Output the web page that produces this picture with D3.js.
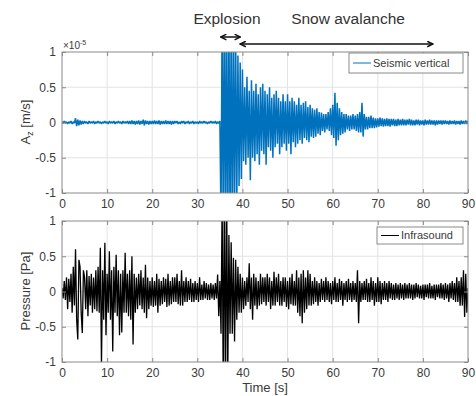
<!DOCTYPE html>
<html>
<head>
<meta charset="utf-8">
<script src="https://cdn.jsdelivr.net/npm/d3@7"></script>
<style>
  body { margin: 0; background: #fff; }
  svg { display: block; font-family: Arial, "Liberation Sans", Helvetica, sans-serif; }
</style>
</head>
<body>
<div id="chart"></div>
<script>
// sampled every 0.25 s from t = 0 to 90 s
const t0 = 0;
const dt = 0.25;

// vertical ground velocity, in units of 1e-5 m/s
const seismic = [
  0.01,-0.01,0.02,-0.01,0.01,-0.02,0.01,-0.01,0.02,-0.02,0.01,-0.01,0.06,-0.05,0.04,-0.04,0.03,-0.03,0.02,-0.02,
  0.02,-0.01,0.01,-0.02,0.02,-0.01,0.01,-0.01,0.02,-0.02,0.01,-0.01,0.02,-0.01,0.01,-0.02,0.01,-0.01,0.02,-0.01,
  0.01,-0.02,0.02,-0.01,0.01,-0.01,0.02,-0.02,0.01,-0.01,0.02,-0.01,0.01,-0.02,0.02,-0.01,0.01,-0.01,0.02,-0.02,
  0.02,-0.02,0.03,-0.02,0.02,-0.03,0.02,-0.02,0.03,-0.03,0.02,-0.02,0.04,-0.04,0.03,-0.02,0.02,-0.03,0.02,-0.02,
  0.02,-0.02,0.03,-0.02,0.02,-0.02,0.03,-0.03,0.02,-0.02,0.02,-0.02,0.03,-0.02,0.02,-0.02,0.02,-0.03,0.02,-0.02,
  0.02,-0.01,0.02,-0.02,0.01,-0.02,0.02,-0.01,0.02,-0.02,0.01,-0.01,0.02,-0.02,0.01,-0.01,0.02,-0.02,0.01,-0.01,
  0.01,-0.02,0.02,-0.01,0.01,-0.01,0.02,-0.01,0.01,-0.02,0.01,-0.01,0.02,-0.01,0.01,-0.01,0.02,-0.02,0.01,-0.01,
  0.02,-1.4,1.6,-1.7,1.8,-1.6,1.5,-1.7,1.6,-1.5,1.4,-1.6,1.5,-1.3,1.2,-1.1,0.95,-0.9,0.85,-0.8,
  0.75,-0.55,0.5,-0.6,0.65,-0.5,0.45,-0.82,0.6,-0.5,0.45,-0.55,0.55,-0.45,0.4,-0.6,0.5,-0.4,0.55,-0.45,
  0.45,-0.6,0.4,-0.35,0.5,-0.4,0.35,-0.5,0.4,-0.35,0.45,-0.3,0.35,-0.45,0.3,-0.35,0.4,-0.3,0.3,-0.4,
  0.4,-0.3,0.3,-0.45,0.35,-0.28,0.3,-0.35,0.25,-0.3,0.35,-0.25,0.25,-0.3,0.28,-0.22,0.3,-0.25,0.22,-0.28,
  0.25,-0.2,0.2,-0.22,0.18,-0.2,0.2,-0.16,0.15,-0.18,0.14,-0.12,0.12,-0.14,0.12,-0.1,0.15,-0.12,0.2,-0.18,
  0.25,-0.22,0.42,-0.33,0.28,-0.25,0.2,-0.18,0.15,-0.16,0.12,-0.14,0.12,-0.1,0.1,-0.12,0.1,-0.1,0.12,-0.1,
  0.1,-0.12,0.12,-0.14,0.15,-0.14,0.28,-0.2,0.12,-0.1,0.08,-0.1,0.08,-0.08,0.1,-0.08,0.07,-0.08,0.06,-0.07,
  0.06,-0.06,0.07,-0.05,0.06,-0.06,0.05,-0.05,0.06,-0.05,0.05,-0.06,0.05,-0.04,0.05,-0.05,0.04,-0.05,0.05,-0.04,
  0.04,-0.04,0.05,-0.04,0.04,-0.04,0.04,-0.03,0.05,-0.04,0.04,-0.04,0.03,-0.04,0.04,-0.03,0.04,-0.04,0.03,-0.03,
  0.03,-0.04,0.04,-0.03,0.03,-0.03,0.04,-0.03,0.03,-0.03,0.03,-0.04,0.03,-0.03,0.03,-0.02,0.03,-0.03,0.03,-0.02,
  0.03,-0.02,0.02,-0.03,0.03,-0.02,0.02,-0.02,0.03,-0.03,0.02,-0.02,0.02,-0.03,0.03,-0.02,0.02,-0.02,0.03,-0.02,
  0.02
];

// infrasound pressure, Pa
const infrasound = [
  0.05,-0.1,0.15,-0.12,0.2,-0.25,0.18,-0.15,0.25,-0.3,0.35,-0.2,0.6,-0.4,-0.68,0.45,0.35,-0.3,-0.59,0.3,
  0.2,-0.25,0.3,-0.35,0.22,-0.2,0.25,-0.3,0.2,-0.25,0.3,-0.28,0.35,-0.3,0.62,-1.05,0.3,-0.4,0.69,-0.62,
  0.25,-0.3,0.57,-0.4,0.3,-0.85,0.35,-0.3,0.52,-0.35,0.3,-0.62,0.25,-0.58,0.3,-0.3,0.55,-0.3,0.25,-0.35,
  0.3,-0.4,0.5,-0.75,0.25,-0.3,0.2,-0.25,0.25,-0.2,0.3,-0.25,0.2,-0.3,0.38,-0.38,0.2,-0.25,0.15,-0.2,
  0.2,-0.22,0.15,-0.2,0.25,-0.3,0.18,-0.2,0.15,-0.18,0.2,-0.15,0.18,-0.22,0.25,-0.2,0.15,-0.18,0.2,-0.15,
  0.2,-0.15,0.25,-0.18,0.15,-0.2,0.3,-0.2,0.15,-0.15,0.2,-0.15,0.15,-0.12,0.18,-0.15,0.12,-0.15,0.15,-0.12,
  0.12,-0.15,0.2,-0.12,0.1,-0.12,0.15,-0.1,0.12,-0.12,0.1,-0.12,0.12,-0.1,0.1,-0.12,0.12,-0.1,0.24,-0.35,
  0.15,-0.6,1.3,-1.5,1.6,-1.5,1.4,-1.2,0.8,-0.6,0.7,-0.6,0.48,-0.71,0.45,-0.4,0.35,-0.3,0.25,-0.3,
  0.2,-0.25,0.15,-0.2,0.2,-0.15,0.4,-0.25,0.2,-0.4,0.25,-0.2,0.2,-0.25,0.15,-0.2,0.25,-0.18,0.2,-0.15,
  0.2,-0.2,0.25,-0.15,0.2,-0.25,0.15,-0.2,0.28,-0.2,0.2,-0.15,0.25,-0.2,0.15,-0.2,0.2,-0.15,0.2,-0.22,
  0.15,-0.25,0.2,-0.18,0.25,-0.2,0.15,-0.2,0.3,-0.3,0.2,-0.35,0.25,-0.45,0.3,-0.3,0.2,-0.25,0.3,-0.2,
  0.25,-0.2,0.15,-0.18,0.2,-0.15,0.15,-0.2,0.12,-0.15,0.18,-0.12,0.15,-0.15,0.2,-0.12,0.15,-0.15,0.12,-0.18,
  0.15,-0.12,0.2,-0.15,0.12,-0.15,0.18,-0.12,0.15,-0.2,0.12,-0.12,0.15,-0.15,0.18,-0.12,0.12,-0.15,0.15,-0.12,
  0.12,-0.15,0.3,-0.45,0.15,-0.15,0.12,-0.12,0.15,-0.12,0.18,-0.15,0.12,-0.15,0.2,-0.12,0.15,-0.2,0.12,-0.15,
  0.2,-0.15,0.15,-0.18,0.12,-0.12,0.15,-0.12,0.12,-0.15,0.15,-0.1,0.12,-0.12,0.1,-0.12,0.12,-0.1,0.1,-0.12,
  0.12,-0.1,0.1,-0.12,0.12,-0.1,0.1,-0.1,0.12,-0.1,0.1,-0.12,0.1,-0.1,0.12,-0.08,0.1,-0.1,0.08,-0.1,
  0.1,-0.12,0.1,-0.08,0.1,-0.1,0.12,-0.1,0.08,-0.1,0.1,-0.12,0.1,-0.08,0.1,-0.1,0.12,-0.1,0.1,-0.12,
  0.12,-0.1,0.1,-0.15,0.12,-0.1,0.15,-0.12,0.12,-0.15,0.2,-0.15,0.15,-0.2,0.2,-0.2,0.3,-0.36,0.25,-0.3,
  0.05
];

const xTicks = [0, 10, 20, 30, 40, 50, 60, 70, 80, 90];
const yTicks = [-1, -0.5, 0, 0.5, 1];

// event spans (s)
const events = [
  { label: 'Explosion', from: 35.2, to: 39.5, textX: 227, y: 37 },
  { label: 'Snow avalanche', from: 39.5, to: 82.2, textX: 348, y: 44 }
];

const width = 476, height = 396;
const left = 62, right = 468;
const textColor = '#3a3a3a';

const svg = d3.select('#chart').append('svg')
  .attr('width', width)
  .attr('height', height);

svg.append('rect').attr('width', width).attr('height', height).attr('fill', '#fff');

const defs = svg.append('defs');
defs.append('marker')
  .attr('id', 'chev')
  .attr('viewBox', '0 0 10 10')
  .attr('refX', 9).attr('refY', 5)
  .attr('markerWidth', 7).attr('markerHeight', 7)
  .attr('markerUnits', 'userSpaceOnUse')
  .attr('orient', 'auto-start-reverse')
  .append('path')
  .attr('d', 'M1,1 L9,5 L1,9')
  .attr('fill', 'none')
  .attr('stroke', '#111')
  .attr('stroke-width', 2);

const x = d3.scaleLinear().domain([0, 90]).range([left, right]);

function panel(id, top, bottom, values, color, strokeW, legendText, legendBox) {
  const y = d3.scaleLinear().domain([-1, 1]).range([bottom, top]);
  const g = svg.append('g');

  defs.append('clipPath').attr('id', 'clip-' + id)
    .append('rect')
    .attr('x', left).attr('y', top)
    .attr('width', right - left).attr('height', bottom - top);

  // grid
  g.append('g').selectAll('line').data(xTicks.slice(1, -1)).enter().append('line')
    .attr('x1', d => x(d)).attr('x2', d => x(d))
    .attr('y1', top).attr('y2', bottom)
    .attr('stroke', '#e3e3e3').attr('stroke-width', 1);
  g.append('g').selectAll('line').data(yTicks.slice(1, -1)).enter().append('line')
    .attr('x1', left).attr('x2', right)
    .attr('y1', d => y(d)).attr('y2', d => y(d))
    .attr('stroke', '#e3e3e3').attr('stroke-width', 1);

  // signal
  const line = d3.line()
    .x((d, i) => x(t0 + i * dt))
    .y(d => y(d));
  g.append('path')
    .datum(values)
    .attr('clip-path', 'url(#clip-' + id + ')')
    .attr('d', line)
    .attr('fill', 'none')
    .attr('stroke', color)
    .attr('stroke-width', strokeW)
    .attr('stroke-linejoin', 'bevel');

  // axes, MATLAB-style box with inward ticks
  const axisColor = '#8a8a8a';
  const bx = g.append('g').attr('transform', `translate(0,${bottom})`)
    .call(d3.axisBottom(x).tickValues(xTicks).tickSizeInner(-4).tickSizeOuter(0).tickPadding(6));
  const tx = g.append('g').attr('transform', `translate(0,${top})`)
    .call(d3.axisTop(x).tickValues(xTicks).tickSizeInner(-4).tickSizeOuter(0).tickFormat(''));
  const ly = g.append('g').attr('transform', `translate(${left},0)`)
    .call(d3.axisLeft(y).tickValues(yTicks).tickSizeInner(-4).tickSizeOuter(0).tickPadding(6)
      .tickFormat(d => d === 0 ? '0' : String(d)));
  const ry = g.append('g').attr('transform', `translate(${right},0)`)
    .call(d3.axisRight(y).tickValues(yTicks).tickSizeInner(-4).tickSizeOuter(0).tickFormat(''));
  [bx, tx, ly, ry].forEach(a => {
    a.select('.domain').remove();
    a.selectAll('.tick line').attr('stroke', axisColor);
    a.selectAll('.tick text').attr('fill', textColor).style('font-size', '12px');
  });
  g.append('rect')
    .attr('x', left).attr('y', top)
    .attr('width', right - left).attr('height', bottom - top)
    .attr('fill', 'none').attr('stroke', axisColor).attr('stroke-width', 1);

  // legend
  const lg = g.append('g');
  lg.append('rect')
    .attr('x', legendBox.x).attr('y', legendBox.y)
    .attr('width', legendBox.w).attr('height', legendBox.h)
    .attr('fill', '#fff').attr('stroke', '#8a8a8a').attr('stroke-width', 1);
  lg.append('line')
    .attr('x1', legendBox.x + 4).attr('x2', legendBox.x + 22)
    .attr('y1', legendBox.y + legendBox.h / 2).attr('y2', legendBox.y + legendBox.h / 2)
    .attr('stroke', color).attr('stroke-width', 1);
  lg.append('text')
    .attr('x', legendBox.x + 24).attr('y', legendBox.y + legendBox.h / 2)
    .attr('dy', '0.35em')
    .attr('fill', textColor)
    .style('font-size', '11px')
    .text(legendText);

  return y;
}

panel('seis', 52, 193, seismic, '#0072BD', 1.5, 'Seismic vertical', { x: 349, y: 53, w: 114, h: 20 });
panel('infra', 221, 362, infrasound, '#000', 1.3, 'Infrasound', { x: 377, y: 227, w: 86, h: 17 });

// y labels
svg.append('text')
  .attr('transform', 'translate(30,122) rotate(-90)')
  .attr('text-anchor', 'middle')
  .attr('fill', textColor)
  .style('font-size', '13px')
  .call(t => {
    t.append('tspan').text('A');
    t.append('tspan').attr('dy', 3).style('font-size', '9px').text('z');
    t.append('tspan').attr('dy', -3).text(' [m/s]');
  });

svg.append('text')
  .attr('transform', 'translate(30,291) rotate(-90)')
  .attr('text-anchor', 'middle')
  .attr('fill', textColor)
  .style('font-size', '13px')
  .text('Pressure [Pa]');

svg.append('text')
  .attr('x', (left + right) / 2).attr('y', 392)
  .attr('text-anchor', 'middle')
  .attr('fill', textColor)
  .style('font-size', '13px')
  .text('Time [s]');

// exponent
svg.append('text')
  .attr('x', 63).attr('y', 49)
  .attr('fill', textColor)
  .style('font-size', '10px')
  .call(t => {
    t.append('tspan').text('\u00d710');
    t.append('tspan').attr('dy', -4).style('font-size', '7px').text('-5');
  });

// event annotations
events.forEach(e => {
  svg.append('line')
    .attr('x1', x(e.from)).attr('x2', x(e.to))
    .attr('y1', e.y).attr('y2', e.y)
    .attr('stroke', '#111').attr('stroke-width', 1.5)
    .attr('marker-start', 'url(#chev)')
    .attr('marker-end', 'url(#chev)');
  svg.append('text')
    .attr('x', e.textX).attr('y', 24)
    .attr('text-anchor', 'middle')
    .attr('fill', '#333')
    .style('font-size', '15.5px')
    .text(e.label);
});
</script>
</body>
</html>
